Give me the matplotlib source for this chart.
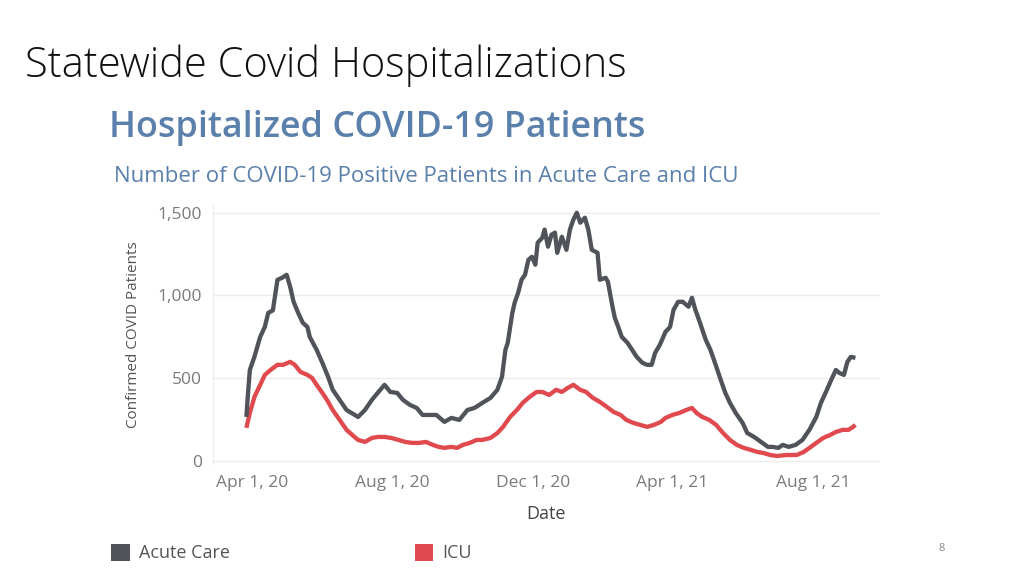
import matplotlib
matplotlib.use("Agg")
import matplotlib.pyplot as plt
from matplotlib.patches import Patch
from matplotlib.ticker import FuncFormatter
import pandas as pd

# values
acute_dates = [
    "2020-03-27", "2020-03-28", "2020-03-30", "2020-04-03", "2020-04-08", "2020-04-12",
    "2020-04-15", "2020-04-19", "2020-04-23", "2020-04-27", "2020-05-01", "2020-05-04",
    "2020-05-07", "2020-05-11", "2020-05-15", "2020-05-19", "2020-05-21", "2020-05-27",
    "2020-06-01", "2020-06-06", "2020-06-10", "2020-06-16", "2020-06-22", "2020-07-02",
    "2020-07-08", "2020-07-14", "2020-07-19", "2020-07-25", "2020-07-30", "2020-08-05",
    "2020-08-10", "2020-08-16", "2020-08-22", "2020-08-27", "2020-09-02", "2020-09-08",
    "2020-09-15", "2020-09-21", "2020-09-28", "2020-10-05", "2020-10-11", "2020-10-18",
    "2020-10-25", "2020-10-31", "2020-11-04", "2020-11-07", "2020-11-09", "2020-11-13",
    "2020-11-15", "2020-11-18", "2020-11-21", "2020-11-24", "2020-11-27", "2020-11-30",
    "2020-12-03", "2020-12-05", "2020-12-09", "2020-12-11", "2020-12-14", "2020-12-17",
    "2020-12-20", "2020-12-22", "2020-12-26", "2020-12-30", "2021-01-02", "2021-01-05",
    "2021-01-08", "2021-01-11", "2021-01-15", "2021-01-18", "2021-01-21", "2021-01-26",
    "2021-01-28", "2021-02-02", "2021-02-04", "2021-02-08", "2021-02-10",
    "2021-02-13", "2021-02-16", "2021-02-21", "2021-02-25", "2021-03-01", "2021-03-06",
    "2021-03-10", "2021-03-14", "2021-03-17", "2021-03-21", "2021-03-26", "2021-03-30",
    "2021-04-02", "2021-04-06", "2021-04-10", "2021-04-15", "2021-04-18", "2021-04-21",
    "2021-04-25", "2021-04-30", "2021-05-04", "2021-05-08", "2021-05-13", "2021-05-17",
    "2021-05-21", "2021-05-26", "2021-06-01", "2021-06-05", "2021-06-11", "2021-06-17",
    "2021-06-23", "2021-06-27", "2021-07-02", "2021-07-06", "2021-07-11", "2021-07-17",
    "2021-07-23", "2021-07-29", "2021-08-04", "2021-08-08", "2021-08-12", "2021-08-17",
    "2021-08-21", "2021-08-24", "2021-08-28", "2021-08-31", "2021-09-03", "2021-09-07",
]
acute_care = [
    266, 370, 550, 630, 750, 810,
    895, 910, 1095, 1107, 1125, 1053,
    962, 895, 835, 810, 750, 672,
    593, 508, 430, 369, 308, 266,
    308, 369, 411, 460, 417, 411,
    369, 339, 320, 278, 278, 278,
    236, 260, 248, 308, 320, 351,
    381, 430, 508, 672, 714, 895,
    956, 1016, 1095, 1125, 1216, 1234,
    1186, 1319, 1349, 1398, 1295, 1367,
    1380, 1258, 1355, 1276, 1398, 1458,
    1500, 1440, 1470, 1398, 1276, 1258,
    1095, 1107, 1083, 932, 865,
    810, 750, 714, 672, 629, 593,
    581, 581, 653, 700, 780, 810,
    913, 962, 962, 932, 986, 913,
    835, 732, 672, 593, 490, 411,
    351, 290, 230, 169, 145, 115,
    85, 85, 79, 97, 85, 97,
    127, 188, 266, 351, 411, 490,
    550, 532, 520, 599, 629, 623,
]

icu_dates = [
    "2020-03-27", "2020-03-30", "2020-04-03", "2020-04-08", "2020-04-12", "2020-04-17",
    "2020-04-23", "2020-04-28", "2020-05-04", "2020-05-08", "2020-05-13", "2020-05-19",
    "2020-05-23", "2020-05-27", "2020-06-01", "2020-06-05", "2020-06-10", "2020-06-16",
    "2020-06-22", "2020-06-27", "2020-07-02", "2020-07-08", "2020-07-14", "2020-07-19",
    "2020-07-25", "2020-07-31", "2020-08-06", "2020-08-12", "2020-08-18", "2020-08-24",
    "2020-08-30", "2020-09-05", "2020-09-10", "2020-09-15", "2020-09-21", "2020-09-26",
    "2020-10-01", "2020-10-07", "2020-10-13", "2020-10-18", "2020-10-25", "2020-10-31",
    "2020-11-05", "2020-11-11", "2020-11-17", "2020-11-22", "2020-11-28", "2020-12-04",
    "2020-12-09", "2020-12-15", "2020-12-21", "2020-12-26", "2020-12-31", "2021-01-05",
    "2021-01-11", "2021-01-16", "2021-01-22", "2021-01-28", "2021-02-03", "2021-02-09",
    "2021-02-15", "2021-02-20", "2021-02-26", "2021-03-04", "2021-03-10", "2021-03-16",
    "2021-03-22", "2021-03-26", "2021-04-01", "2021-04-07", "2021-04-13", "2021-04-18",
    "2021-04-22", "2021-04-27", "2021-05-03", "2021-05-09", "2021-05-15", "2021-05-21",
    "2021-05-27", "2021-06-02", "2021-06-08", "2021-06-14", "2021-06-19", "2021-06-25",
    "2021-07-01", "2021-07-09", "2021-07-18", "2021-07-24", "2021-07-29", "2021-08-04",
    "2021-08-10", "2021-08-16", "2021-08-21", "2021-08-27", "2021-09-01", "2021-09-05",
    "2021-09-07",
]
icu = [
    200, 290, 387, 460, 520, 550,
    581, 581, 599, 581, 538, 520,
    502, 460, 411, 369, 308, 248,
    188, 157, 127, 115, 139, 145,
    145, 139, 127, 115, 109, 109,
    115, 97, 85, 79, 85, 79,
    97, 109, 127, 127, 139, 169,
    206, 266, 308, 351, 387, 417,
    417, 399, 430, 417, 441, 460,
    430, 417, 381, 357, 327, 296,
    278, 248, 230, 218, 206, 218,
    236, 260, 278, 290, 308, 320,
    290, 266, 248, 218, 169, 127,
    97, 79, 67, 54, 48, 36,
    30, 36, 36, 54, 79, 109,
    139, 157, 175, 188, 188, 206,
    218,
]

tick_dates = ["2020-04-01", "2020-08-01", "2020-12-01", "2021-04-01", "2021-08-01"]
tick_labels = ["Apr 1, 20", "Aug 1, 20", "Dec 1, 20", "Apr 1, 21", "Aug 1, 21"]
y_ticks = [0, 500, 1000, 1500]

series_names = ["Acute Care", "ICU"]
ACUTE_COLOR = "#50545a"
ICU_COLOR = "#e04a4e"
TITLE_BLUE = "#5a80ab"

plt.rcParams["font.family"] = ["Open Sans", "DejaVu Sans"]

fig = plt.figure(figsize=(10.24, 5.76), dpi=100)
fig.patch.set_facecolor("white")

ax = fig.add_axes([0.208, 0.194, 0.651, 0.451])

ax.plot(pd.to_datetime(acute_dates), acute_care, color=ACUTE_COLOR, lw=3.1,
        solid_joinstyle="round", solid_capstyle="butt", zorder=3)
ax.plot(pd.to_datetime(icu_dates), icu, color=ICU_COLOR, lw=3.1,
        solid_joinstyle="round", solid_capstyle="butt", zorder=2)

ax.set_ylim(-20, 1550)
ax.set_xlim(pd.Timestamp("2020-02-27"), pd.Timestamp("2021-09-28"))

ax.set_yticks(y_ticks)
ax.yaxis.set_major_formatter(FuncFormatter(lambda v, p: f"{int(v):,}"))
ax.set_xticks(pd.to_datetime(tick_dates))
ax.set_xticklabels(tick_labels)

ax.grid(axis="y", color="#ebebeb", lw=1)
ax.set_axisbelow(True)
ax.tick_params(length=0, colors="#7a7a7a", labelsize=12.5)
ax.tick_params(axis="y", pad=8)
ax.tick_params(axis="x", pad=8)
for s in ["top", "right", "bottom"]:
    ax.spines[s].set_visible(False)
ax.spines["left"].set_color("#ececec")

ax.set_ylabel("Confirmed COVID Patients", fontsize=11, color="#555555", labelpad=12)
ax.set_xlabel("Date", fontsize=13, color="#444444", labelpad=10)

fig.text(0.024, 0.886, "Statewide Covid Hospitalizations", fontsize=30,
         fontweight="light", color="#111111", va="center", ha="left")
fig.text(0.106, 0.778, "Hospitalized COVID-19 Patients", fontsize=25.8,
         fontweight="semibold", color=TITLE_BLUE, va="center", ha="left")
fig.text(0.111, 0.694, "Number of COVID-19 Positive Patients in Acute Care and ICU",
         fontsize=16, fontweight="medium", color=TITLE_BLUE, va="center", ha="left")

handles = [Patch(facecolor=ACUTE_COLOR), Patch(facecolor=ICU_COLOR)]
fig.legend(handles, series_names, loc="center left", bbox_to_anchor=(0.093, 0.04),
           ncol=2, frameon=False, fontsize=13, labelcolor="#555555",
           handlelength=1.0, handleheight=1.1, handletextpad=0.55, columnspacing=10.2)

fig.text(0.92, 0.047, "8", fontsize=8, color="#8a8a8a", ha="center", va="center")

fig.savefig("out.png", dpi=100)
